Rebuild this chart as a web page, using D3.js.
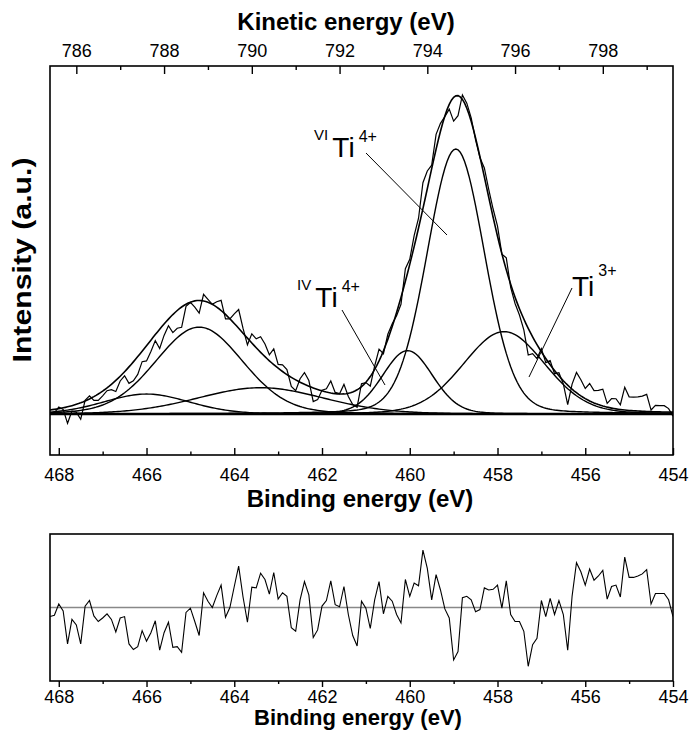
<!DOCTYPE html>
<html><head><meta charset="utf-8">
<script src="https://cdn.jsdelivr.net/npm/d3@7/dist/d3.min.js"></script>
<style>
body{margin:0;background:#fff}
svg{display:block;background:#fff}
text{font-family:"Liberation Sans",Arial,Helvetica,sans-serif;fill:#000}
</style>
</head><body>
<svg id="chart" width="690" height="730"></svg>
<script>
// ---- data ----
const energyStart = 468.2;   // first binding energy of the scan (eV)
const energyStep = 0.1;      // scan step (eV)
const photonEnergy = 1253.6; // Mg Ka: kinetic = hv - binding
// measured minus fit (intensity units), one value per scan point
const residual = [
  -1.3,-1.1,0.5,-0.5,-5.2,-1.7,-2.5,-5.2,0.2,1.0,
  -1.2,-2.0,-1.5,-0.9,-1.7,-3.5,-1.5,-1.3,-5.2,-6.0,
  -5.6,-3.3,-4.8,-3.6,-1.9,-6.1,-3.6,-2.1,-5.7,-5.6,
  -6.4,-0.7,-0.1,-2.0,-4.0,2.1,0.9,0.0,1.7,3.2,
  -1.4,0.0,3.0,5.9,1.5,-2.1,2.9,2.8,4.9,4.0,
  1.9,5.0,1.2,2.1,1.6,-2.9,-3.4,1.1,3.7,1.8,
  -4.3,-3.2,0.2,1.0,3.8,0.4,0.1,3.0,-1.0,-4.0,
  -5.5,0.9,-0.1,-3.0,1.1,3.7,-0.9,1.6,0.9,-1.0,
  -2.2,4.0,1.6,3.5,3.1,8.2,5.6,1.1,4.7,2.5,
  -0.2,-1.5,-7.5,-6.3,1.4,1.6,1.1,-0.6,-0.3,2.8,
  2.5,2.6,3.2,-0.1,3.8,-1.0,-2.0,-2.0,-3.4,-8.4,
  -5.3,-4.4,1.0,-1.3,1.3,-1.0,1.0,-1.0,-6.1,1.6,
  6.4,5.1,3.2,5.5,3.9,4.5,5.3,1.2,3.0,3.2,
  1.5,7.2,4.3,4.3,4.5,4.8,5.4,0.5,2.0,2.0,
  2.0,1.1,-1.3
];
// fitted components (pseudo-Voigt)
const peakNames   = ["sat 466.0","sat 464.8","sat 463.4","IV Ti4+","VI Ti4+","Ti3+"];
const peakCenters = [466.0, 464.8, 463.4, 460.05, 458.95, 457.85];
const peakHeights = [6.3, 27.4, 8.3, 20.0, 83.6, 26.0];
const peakFwhm    = [2.3, 2.35, 3.4, 1.35, 1.55, 2.2];
const lorentzFraction = 0.12;
const bindingMajor = [468,466,464,462,460,458,456,454];
const bindingMinor = [467,465,463,461,459,457,455];
const kineticMajor = [786,788,790,792,794,796,798];
const kineticMinor = [787,789,791,793,795,797,799];

// ---- layout ----
const svg = d3.select("#chart");
const M = {left:50, right:673, top:66, bottom:455};
const R = {top:534, bottom:681};

const x = d3.scaleLinear().domain([energyStart, 454]).range([M.left, M.right]);
const xk = d3.scaleLinear().domain([photonEnergy-energyStart, photonEnergy-454]).range([M.left, M.right]);
const y = d3.scaleLinear().domain([-12.93, 109.8]).range([M.bottom, M.top]);
const yr = d3.scaleLinear().domain([-10.5, 10.5]).range([R.bottom, R.top]);

const nPts = residual.length;
const energies = d3.range(nPts).map(i => +(energyStart - i*energyStep).toFixed(2));
const fine = d3.range(0, 285).map(j => +(energyStart - j*0.05).toFixed(3));

function pv(E, k){
  const d = (E - peakCenters[k]) / peakFwhm[k];
  const g = Math.exp(-4*Math.LN2*d*d);
  const l = 1/(1+4*d*d);
  return peakHeights[k]*((1-lorentzFraction)*g + lorentzFraction*l);
}
function envelope(E){ let s=0; for(let k=0;k<peakCenters.length;k++) s+=pv(E,k); return s; }

svg.append("defs").append("clipPath").attr("id","mainclip")
  .append("rect").attr("x",M.left).attr("y",M.top).attr("width",M.right-M.left).attr("height",M.bottom-M.top);
svg.append("defs").append("clipPath").attr("id","resclip")
  .append("rect").attr("x",M.left).attr("y",R.top).attr("width",M.right-M.left).attr("height",R.bottom-R.top);

const g = svg.append("g").attr("clip-path","url(#mainclip)");
const line = d3.line().x(d=>x(d[0])).y(d=>y(d[1]));

// baseline
g.append("path").datum([[energyStart,0],[454,0]]).attr("d",line)
  .attr("fill","none").attr("stroke","#000").attr("stroke-width",2.6);
// components
peakCenters.forEach((c,k)=>{
  g.append("path").datum(fine.map(E=>[E,pv(E,k)])).attr("d",line)
    .attr("fill","none").attr("stroke","#000").attr("stroke-width",1.4);
});
// envelope
g.append("path").datum(fine.map(E=>[E,envelope(E)])).attr("d",line)
  .attr("fill","none").attr("stroke","#000").attr("stroke-width",1.6);
// measured
g.append("path").datum(energies.map((E,i)=>[E, envelope(E)+residual[i]])).attr("d",line)
  .attr("fill","none").attr("stroke","#000").attr("stroke-width",1.2).attr("stroke-linejoin","miter");

// frame
svg.append("rect").attr("x",M.left).attr("y",M.top).attr("width",M.right-M.left).attr("height",M.bottom-M.top)
  .attr("fill","none").attr("stroke","#000").attr("stroke-width",1.6);

function styleAxis(sel, fs){
  sel.select(".domain").remove();
  sel.selectAll("line").attr("stroke","#000").attr("stroke-width",1.4);
  sel.selectAll("text").style("font-size",fs+"px").attr("fill","#000");
}
// bottom binding axis (ticks inward)
svg.append("g").attr("transform",`translate(0,${M.bottom})`)
  .call(d3.axisBottom(x).tickValues(bindingMajor).tickSize(-7).tickPadding(13).tickFormat(d3.format("d")))
  .call(s=>styleAxis(s,18));
svg.append("g").attr("transform",`translate(0,${M.bottom})`)
  .call(d3.axisBottom(x).tickValues(bindingMinor).tickSize(-3.5).tickFormat(""))
  .call(s=>styleAxis(s,18));
// top kinetic axis (ticks inward)
svg.append("g").attr("transform",`translate(0,${M.top})`)
  .call(d3.axisTop(xk).tickValues(kineticMajor).tickSize(-8).tickPadding(9).tickFormat(d3.format("d")))
  .call(s=>styleAxis(s,18));
svg.append("g").attr("transform",`translate(0,${M.top})`)
  .call(d3.axisTop(xk).tickValues(kineticMinor).tickSize(-4).tickFormat(""))
  .call(s=>styleAxis(s,18));

// titles
svg.append("text").attr("x",346).attr("y",30).attr("text-anchor","middle")
  .style("font-size","24px").style("font-weight","bold").text("Kinetic energy (eV)");
svg.append("text").attr("x",360).attr("y",507).attr("text-anchor","middle")
  .style("font-size","24px").style("font-weight","bold").text("Binding energy (eV)");
svg.append("text").attr("transform","translate(31,260) rotate(-90)").attr("text-anchor","middle")
  .attr("textLength",205).attr("lengthAdjust","spacingAndGlyphs")
  .style("font-size","25px").style("font-weight","bold").text("Intensity (a.u.)");

// annotations
function label(xs, yb, pre, sup, supDy){
  const t = svg.append("text").attr("x",xs).attr("y",yb);
  if(pre) t.append("tspan").style("font-size","15px").attr("dy",-17).text(pre+" ");
  t.append("tspan").style("font-size","28px").attr("dy", pre?17:0).text("Ti");
  t.append("tspan").style("font-size","16px").attr("dx",4).attr("dy",supDy).text(sup);
}
label(314,157,"VI","4+",-15);
label(297,307,"IV","4+",-15);
label(572,296,null,"3+",-20);
const leaders = [[366,153,447,235],[342,310,385,385],[572,288,529,377]];
leaders.forEach(l=>svg.append("line").attr("x1",l[0]).attr("y1",l[1]).attr("x2",l[2]).attr("y2",l[3])
  .attr("stroke","#000").attr("stroke-width",1));

// ---- residual panel ----
const gr = svg.append("g").attr("clip-path","url(#resclip)");
gr.append("line").attr("x1",M.left).attr("x2",M.right).attr("y1",yr(0)).attr("y2",yr(0))
  .attr("stroke","#888").attr("stroke-width",1.4);
gr.append("path").datum(energies.map((E,i)=>[E,residual[i]]))
  .attr("d",d3.line().x(d=>x(d[0])).y(d=>yr(d[1])))
  .attr("fill","none").attr("stroke","#000").attr("stroke-width",1.1);
svg.append("rect").attr("x",M.left).attr("y",R.top).attr("width",M.right-M.left).attr("height",R.bottom-R.top)
  .attr("fill","none").attr("stroke","#000").attr("stroke-width",1.6);
svg.append("g").attr("transform",`translate(0,${R.bottom})`)
  .call(d3.axisBottom(x).tickValues(bindingMajor).tickSize(6).tickPadding(3).tickFormat(d3.format("d")))
  .call(s=>styleAxis(s,18));
svg.append("g").attr("transform",`translate(0,${R.bottom})`)
  .call(d3.axisBottom(x).tickValues(bindingMinor).tickSize(3).tickFormat(""))
  .call(s=>styleAxis(s,18));
svg.append("text").attr("x",358).attr("y",725).attr("text-anchor","middle")
  .style("font-size","22px").style("font-weight","bold").text("Binding energy (eV)");
</script>
</body></html>
